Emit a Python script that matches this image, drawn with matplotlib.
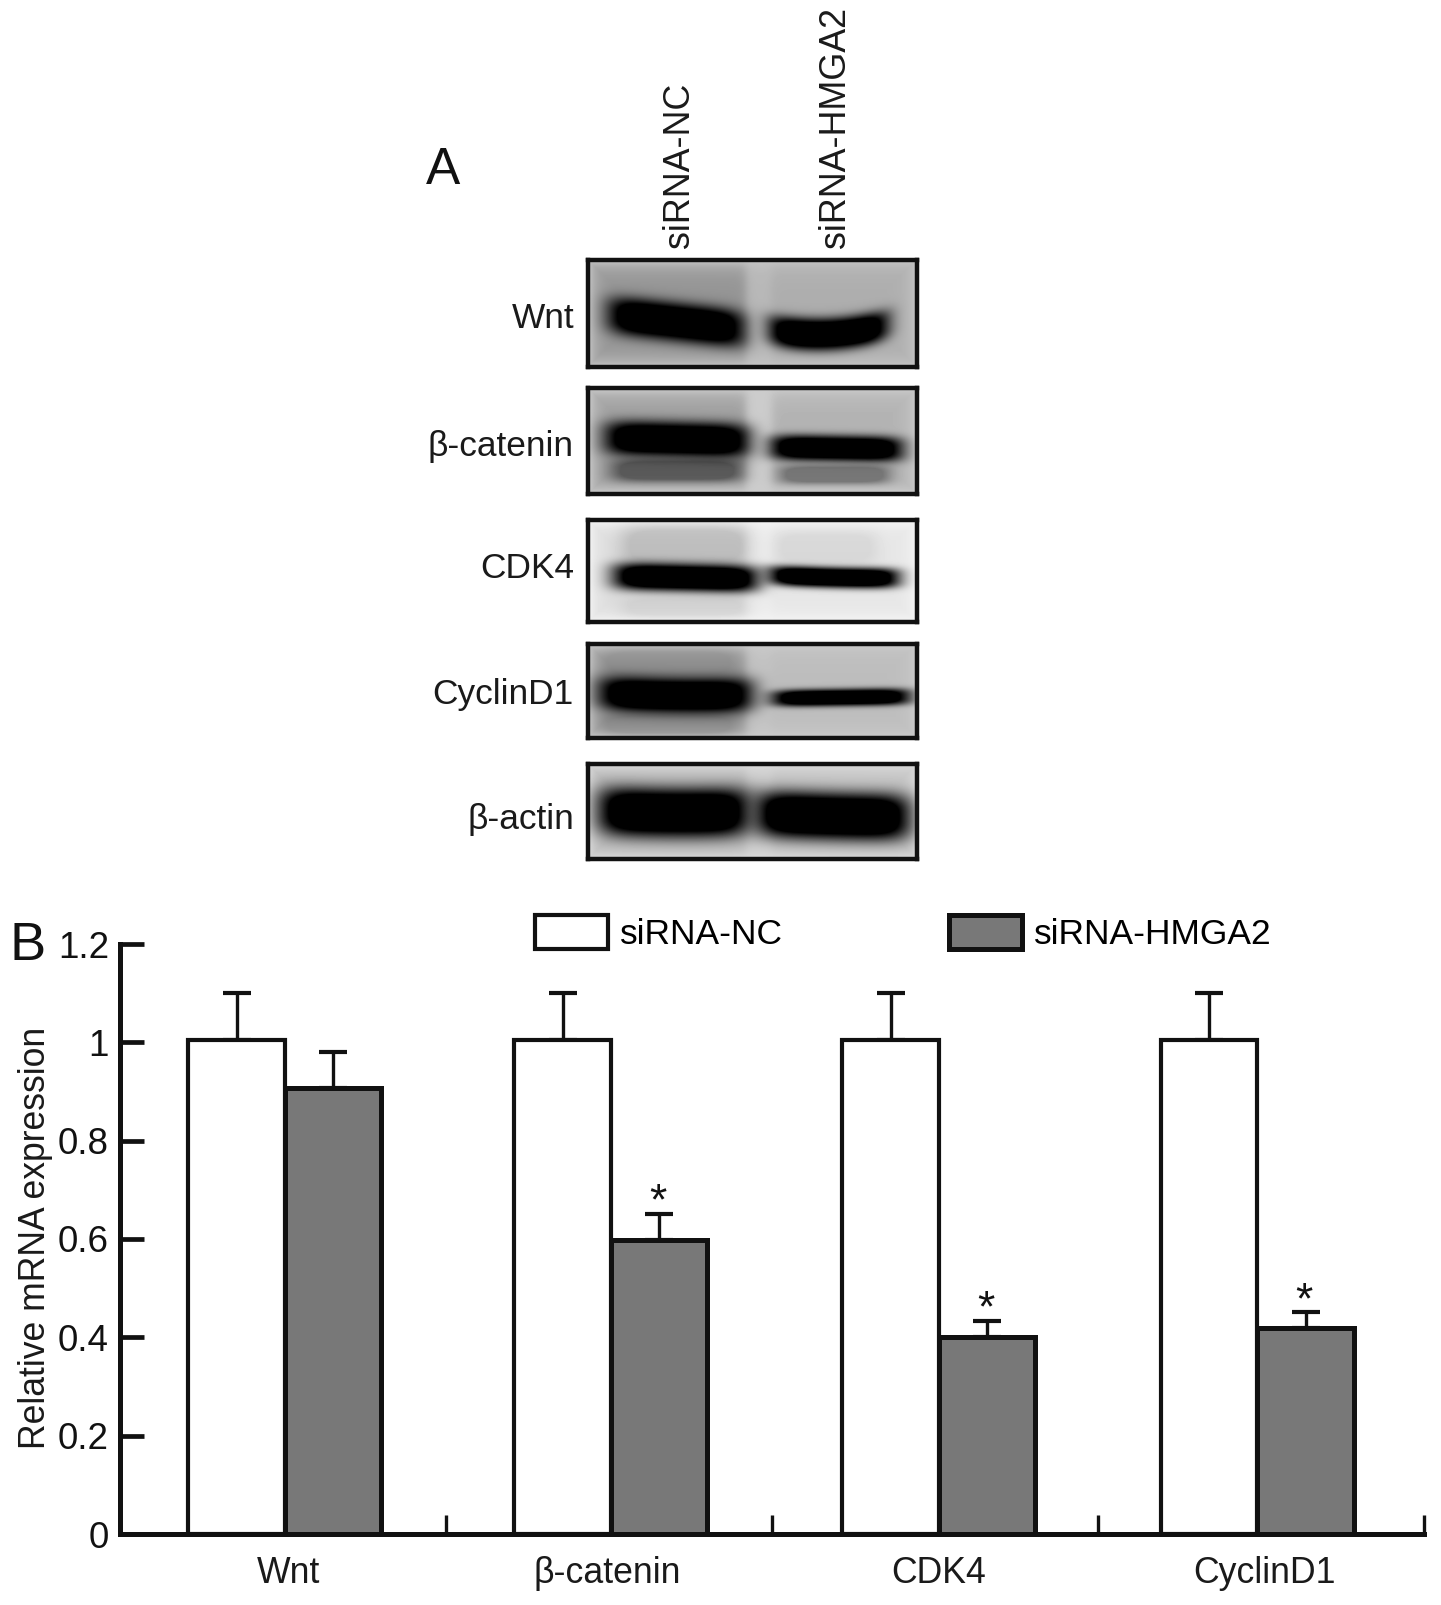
import matplotlib
matplotlib.use('Agg')
import matplotlib.pyplot as plt
import numpy as np

plt.rcParams['font.family'] = ['Liberation Sans', 'DejaVu Sans']

W, H = 1441, 1605

# bar chart values
genes = ['Wnt', 'β-catenin', 'CDK4', 'CyclinD1']
nc_values = [1.005, 1.005, 1.005, 1.005]
hmga2_values = [0.907, 0.597, 0.401, 0.418]
nc_err = [0.095, 0.095, 0.095, 0.095]
hmga2_err = [0.073, 0.054, 0.032, 0.033]
significant = [False, True, True, True]
group_shift = [0.006, 0.006, 0.012, -0.011]
label_shift = [0.011, -0.012, 0.0, 0.021]
y_ticks = [0, 0.2, 0.4, 0.6, 0.8, 1.0, 1.2]
y_tick_labels = ['0', '0.2', '0.4', '0.6', '0.8', '1', '1.2']

# blot panels: label, top and bottom pixel row of the box
blot_names = ['Wnt', 'β-catenin', 'CDK4', 'CyclinD1', 'β-actin']
blot_tops = [260, 388, 520, 644, 764]
blot_bottoms = [367, 494, 622, 738, 859]
blot_label_y = [318, 446, 569, 695, 820]
lane_labels = ['siRNA-NC', 'siRNA-HMGA2']

# grey level left lane, gap, right lane, rim
blot_bg = [
    [0.58, 0.72, 0.68, 0.78],
    [0.62, 0.80, 0.70, 0.80],
    [0.86, 0.92, 0.90, 0.96],
    [0.62, 0.76, 0.74, 0.80],
    [0.72, 0.80, 0.76, 0.86],
]
# x0, x1, y at x0, y at x1, sag, half height, darkness (box fractions)
wnt_bands = [[0.06, 0.475, 0.51, 0.65, 0.0, 0.18, 1.0],
             [0.55, 0.915, 0.65, 0.60, 0.07, 0.15, 1.0]]
catenin_bands = [[0.05, 0.49, 0.47, 0.50, 0.0, 0.165, 1.0],
                 [0.555, 0.958, 0.56, 0.58, 0.0, 0.12, 1.0],
                 [0.07, 0.47, 0.78, 0.78, 0.0, 0.11, 0.45],
                 [0.58, 0.92, 0.82, 0.82, 0.0, 0.09, 0.35]]
cdk4_bands = [[0.075, 0.518, 0.55, 0.58, 0.0, 0.135, 1.0],
              [0.55, 0.947, 0.54, 0.57, 0.01, 0.10, 1.0],
              [0.10, 0.49, 0.25, 0.25, 0.0, 0.20, 0.14],
              [0.57, 0.88, 0.27, 0.27, 0.0, 0.17, 0.06],
              [0.10, 0.49, 0.86, 0.86, 0.0, 0.10, 0.06]]
cyclin_bands = [[0.03, 0.50, 0.52, 0.54, 0.02, 0.19, 1.0],
                [0.56, 0.98, 0.58, 0.56, 0.0, 0.09, 1.0],
                [0.03, 0.46, 0.20, 0.20, 0.0, 0.16, 0.12],
                [0.03, 0.46, 0.86, 0.86, 0.0, 0.12, 0.16]]
actin_bands = [[0.03, 0.49, 0.49, 0.50, 0.02, 0.26, 1.0],
               [0.51, 0.98, 0.52, 0.56, 0.01, 0.25, 1.0]]
blot_bands = [wnt_bands, catenin_bands, cdk4_bands, cyclin_bands, actin_bands]


def px_rect(left, top, right, bottom):
    return [left / W, 1 - bottom / H, (right - left) / W, (bottom - top) / H]


def make_blot(bg, bands, n_rows):
    xs = np.linspace(0, 1, 329)
    ys = np.linspace(0, 1, n_rows)
    X, Y = np.meshgrid(xs, ys)
    # lanes
    left_w = 1 / (1 + np.exp((X - 0.48) / 0.008))
    right_w = 1 / (1 + np.exp((0.56 - X) / 0.008))
    img = bg[0] * left_w + bg[2] * right_w + bg[1] * (1 - left_w - right_w)
    # lighter rim inside the frame
    edge = np.minimum.reduce([X * 329, (1 - X) * 329, Y * n_rows, (1 - Y) * n_rows])
    rim = np.exp(-edge / 9.0)
    img = img * (1 - rim) + bg[3] * rim
    for x0, x1, y0, y1, sag, hh, dark in bands:
        xc, xw = (x0 + x1) / 2, (x1 - x0) / 2
        t = (X - x0) / (x1 - x0)
        yc = y0 + (y1 - y0) * t + sag * 4 * t * (1 - t)
        a = np.exp(-np.abs((X - xc) / xw) ** 6) * np.exp(-np.abs((Y - yc) / hh) ** 3)
        a = np.clip(a * 1.5, 0, 1) * dark
        img = img * (1 - a)
    return img


fig = plt.figure(figsize=(W / 100, H / 100), dpi=100)

# panel A
for i, name in enumerate(blot_names):
    top, bottom = blot_tops[i], blot_bottoms[i]
    bax = fig.add_axes(px_rect(588, top, 917, bottom))
    img = make_blot(blot_bg[i], blot_bands[i], bottom - top)
    bax.imshow(img, cmap='gray', vmin=0, vmax=1, aspect='auto', interpolation='bilinear')
    bax.set_xticks([])
    bax.set_yticks([])
    for s in bax.spines.values():
        s.set_linewidth(3.2)
        s.set_color('#111111')
    fig.text(574 / W, 1 - blot_label_y[i] / H, name, fontsize=25.4, ha='right', va='center', color='#1a1a1a')

fig.text(680 / W, 1 - 248 / H, lane_labels[0], fontsize=25.8, rotation=90, ha='center', va='bottom', color='#1a1a1a')
fig.text(836 / W, 1 - 248 / H, lane_labels[1], fontsize=25.8, rotation=90, ha='center', va='bottom', color='#1a1a1a')
fig.text(426 / W, 1 - 184 / H, 'A', fontsize=37, ha='left', va='baseline', color='#111111')
fig.text(10 / W, 1 - 960 / H, 'B', fontsize=39, ha='left', va='baseline', color='#111111')

# panel B
ax = fig.add_axes(px_rect(120, 944, 1424, 1534))
width = 0.296
centers = np.arange(len(genes)) + 0.5 + np.array(group_shift)

err_style = dict(fmt='none', ecolor='#111111', elinewidth=2.4, capsize=10, capthick=3.0, zorder=1)
ax.errorbar(centers - width / 2, nc_values, yerr=[np.zeros(4), nc_err], **err_style)
ax.errorbar(centers + width / 2, hmga2_values, yerr=[np.zeros(4), hmga2_err], **err_style)
b1 = ax.bar(centers - width / 2, nc_values, width, color='white', edgecolor='#111111', linewidth=3.0, zorder=2, label='siRNA-NC')
b2 = ax.bar(centers + width / 2, hmga2_values, width, color='#787878', edgecolor='#111111', linewidth=3.6, zorder=2, label='siRNA-HMGA2')

for i, sig in enumerate(significant):
    if sig:
        ax.annotate('*', (centers[i] + width / 2, hmga2_values[i] + hmga2_err[i]), xytext=(-1, -7),
                    textcoords='offset points', ha='center', va='bottom', fontsize=32, color='#111111')

ax.set_xlim(0, 4)
ax.set_ylim(0, 1.2)
ax.set_yticks(y_ticks)
ax.set_yticklabels(y_tick_labels)
ax.set_xticks(np.arange(5))
ax.set_xticklabels([])
ax.set_xticks(centers + np.array(label_shift), genes, minor=True)
ax.tick_params(axis='y', direction='in', length=17, width=3.4, labelsize=26.5, pad=8, colors='#111111')
ax.tick_params(axis='x', which='major', direction='in', length=14, width=2.4, color='#111111')
ax.tick_params(axis='x', which='minor', length=0, labelsize=25.7, pad=16, labelcolor='#1a1a1a')
ax.spines['top'].set_visible(False)
ax.spines['right'].set_visible(False)
for side in ['left', 'bottom']:
    ax.spines[side].set_linewidth(3.6)
    ax.spines[side].set_color('#111111')
ax.set_ylabel('Relative mRNA expression', fontsize=25.6, color='#1a1a1a')
ax.yaxis.set_label_coords(53 / W, 1 - 1238 / H, transform=fig.transFigure)

ax.legend(handles=[b1, b2], ncol=2, frameon=False, fontsize=25.5, loc='center left',
          bbox_to_anchor=(535 / W, 1 - 933 / H), bbox_transform=fig.transFigure,
          borderpad=0, borderaxespad=0, handlelength=2.06, handleheight=1.1,
          handletextpad=0.33, columnspacing=4.7)

fig.savefig('out.png', dpi=100)
